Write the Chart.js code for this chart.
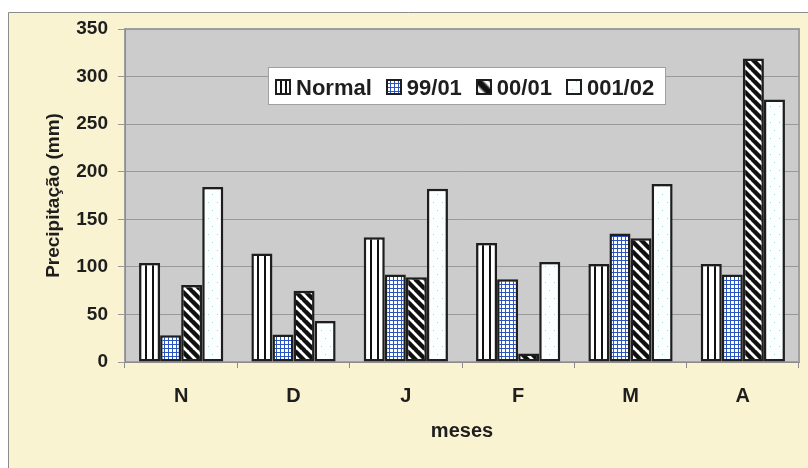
<!DOCTYPE html>
<html>
<head>
<meta charset="utf-8">
<script src="https://cdn.jsdelivr.net/npm/chart.js@4/dist/chart.umd.min.js"></script>
<style>
  html, body { margin: 0; padding: 0; background: #ffffff; }
  #wrap { width: 808px; height: 468px; position: relative; }
</style>
</head>
<body>
<div id="wrap"><canvas id="c" width="808" height="468"></canvas></div>
<script>
// Monthly precipitation (mm), normal vs. three seasons
const months = ['N', 'D', 'J', 'F', 'M', 'A'];
const seriesNames = ['Normal', '99/01', '00/01', '001/02'];
const normalVals = [104, 114, 131, 125, 103, 103];
const vals9901 = [28, 29, 92, 87, 135, 92];
const vals0001 = [81, 75, 89, 9, 130, 319];
const vals00102 = [184, 43, 182, 105, 187, 276];
const yTicks = [0, 50, 100, 150, 200, 250, 300, 350];

const FONT = "'Liberation Sans', Arial, sans-serif";
const CAT_PCT = 0.75;
const INK = '#1e1e1e';

// ---- hatch tiles -------------------------------------------------------
function makeTile(w, h, paint) {
  const c = document.createElement('canvas');
  c.width = w; c.height = h;
  paint(c.getContext('2d'), w, h);
  return c;
}
const tiles = {
  vert: makeTile(7, 8, (g, w, h) => {
    g.fillStyle = '#ffffff'; g.fillRect(0, 0, w, h);
    g.fillStyle = '#111111'; g.fillRect(0, 0, 1, h); g.fillRect(6, 0, 1, h);
  }),
  vertSmall: makeTile(5, 8, (g, w, h) => {
    g.fillStyle = '#ffffff'; g.fillRect(0, 0, w, h);
    g.fillStyle = '#111111'; g.fillRect(0, 0, 2, h);
  }),
  grid: makeTile(4, 4, (g, w, h) => {
    g.fillStyle = '#ffffff'; g.fillRect(0, 0, w, h);
    g.fillStyle = '#2a55c0'; g.fillRect(0, 0, 1, h); g.fillRect(0, 0, w, 1);
  }),
  diag: makeTile(10, 10, (g, w, h) => {
    g.fillStyle = '#ffffff'; g.fillRect(0, 0, w, h);
    g.strokeStyle = '#111111'; g.lineWidth = 4.4;
    g.beginPath();
    for (const o of [-w, 0, w]) { g.moveTo(o - 1, -1); g.lineTo(o + w + 1, h + 1); }
    g.stroke();
  }),
  dots: makeTile(9, 16, (g, w, h) => {
    g.fillStyle = '#fbffff'; g.fillRect(0, 0, w, h);
    g.fillStyle = '#9fd6d0'; g.fillRect(1, 2, 1, 1); g.fillRect(6, 10, 1, 1);
  })
};

// left edge of one bar, from the category scale and the bar grouping
function barLeft(chart, dsIndex, index) {
  const xs = chart.scales.x;
  const cat = xs.getPixelForValue(1) - xs.getPixelForValue(0);
  const group = cat * CAT_PCT;
  return xs.getPixelForValue(index) - group / 2 + dsIndex * group / seriesNames.length;
}
function patternFill(tileName) {
  return (ctx) => {
    const chart = ctx.chart;
    const p = chart.ctx.createPattern(tiles[tileName], 'repeat');
    if (ctx.type === 'data' && chart.scales.x) {
      const left = Math.round(barLeft(chart, ctx.datasetIndex, ctx.dataIndex));
      p.setTransform(new DOMMatrix([1, 0, 0, 1, left, 0]));
    }
    return p;
  };
}

// ---- page and plot background -----------------------------------------
const framePlugin = {
  id: 'frame',
  beforeDraw(chart) {
    const g = chart.ctx, a = chart.chartArea;
    g.save();
    g.fillStyle = '#ffffff'; g.fillRect(0, 0, chart.width, chart.height);
    g.fillStyle = '#faf3d1'; g.fillRect(8, 12, chart.width, chart.height);
    g.strokeStyle = '#8c8c8c'; g.lineWidth = 1;
    g.beginPath(); g.moveTo(8.5, chart.height); g.lineTo(8.5, 12.5); g.lineTo(chart.width, 12.5); g.stroke();
    g.fillStyle = '#cccccc'; g.fillRect(a.left, a.top, a.right - a.left, a.bottom - a.top);
    g.strokeStyle = '#a0a0a0'; g.lineWidth = 2;
    g.strokeRect(a.left, a.top, a.right - a.left, a.bottom - a.top);
    g.restore();
  }
};

// ---- legend box inside the plot ---------------------------------------
const legendTiles = ['vertSmall', 'grid', 'diag', 'dots'];
const boxLegend = {
  id: 'boxLegend',
  afterDatasetsDraw(chart) {
    const g = chart.ctx, a = chart.chartArea;
    const bx = Math.round(a.left + 143), by = Math.round(a.top + 38), bh = 38;
    g.save();
    g.font = 'bold 22px ' + FONT;
    let w = 7;
    seriesNames.forEach((n, i) => { w += 16 + 5 + g.measureText(n).width + (i < seriesNames.length - 1 ? 14 : 12); });
    w = Math.round(w);
    g.fillStyle = '#ffffff'; g.fillRect(bx, by, w, bh);
    g.strokeStyle = '#a0a0a0'; g.lineWidth = 1; g.strokeRect(bx + 0.5, by + 0.5, w - 1, bh - 1);
    let x = bx + 7;
    const iy = by + 12, base = by + 27.5;
    seriesNames.forEach((n, i) => {
      const ix = Math.round(x);
      const p = g.createPattern(tiles[legendTiles[i]], 'repeat');
      if (i === 2) {
        p.setTransform(new DOMMatrix([1.6, 0, 0, 1.6, ix, iy]));
      } else {
        p.setTransform(new DOMMatrix([1, 0, 0, 1, ix, iy]));
      }
      g.fillStyle = p; g.fillRect(ix, iy, 16, 16);
      g.strokeStyle = INK; g.lineWidth = 2; g.strokeRect(ix + 1, iy + 1, 14, 14);
      x += 16 + 5;
      g.fillStyle = INK; g.textBaseline = 'alphabetic'; g.textAlign = 'left';
      g.fillText(n, x, base);
      x += g.measureText(n).width + 14;
    });
    g.restore();
  }
};

const seriesVals = [normalVals, vals9901, vals0001, vals00102];
const seriesTiles = ['vert', 'grid', 'diag', 'dots'];

new Chart(document.getElementById('c'), {
  type: 'bar',
  data: {
    labels: months,
    datasets: seriesNames.map((name, i) => ({
      label: name,
      data: seriesVals[i],
      backgroundColor: patternFill(seriesTiles[i]),
      borderColor: INK,
      borderWidth: 2.5,
      borderSkipped: false,
      categoryPercentage: CAT_PCT,
      barPercentage: 1.0
    }))
  },
  options: {
    responsive: false,
    animation: false,
    events: [],
    layout: { padding: { top: 29, right: 9, left: 0, bottom: 0 } },
    plugins: { legend: { display: false }, tooltip: { enabled: false } },
    scales: {
      x: {
        grid: { offset: true, drawOnChartArea: false, drawTicks: true, tickLength: 6, color: '#8c8c8c' },
        border: { display: true, color: '#8c8c8c', width: 1 },
        ticks: { font: { family: FONT, size: 20, weight: 'bold' }, color: INK, padding: 16 },
        title: {
          display: true, text: 'meses', color: INK,
          font: { family: FONT, size: 20, weight: 'bold' },
          padding: { top: 25, bottom: 25 }
        },
        afterFit(s) { s.height = 106; }
      },
      y: {
        min: 0, max: 350,
        afterBuildTicks(s) { s.ticks = yTicks.map(v => ({ value: v })); },
        ticks: { font: { family: FONT, size: 19, weight: 'bold' }, color: INK, padding: 10 },
        grid: { color: '#999999', tickLength: 7, lineWidth: 1 },
        border: { display: true, color: '#8c8c8c', width: 1 },
        title: {
          display: true, text: 'Precipitação (mm)', color: INK,
          font: { family: FONT, size: 19, weight: 'bold' },
          padding: { top: 42, bottom: 42 }
        },
        afterFit(s) { s.width = 125; }
      }
    }
  },
  plugins: [framePlugin, boxLegend]
});
</script>
</body>
</html>
